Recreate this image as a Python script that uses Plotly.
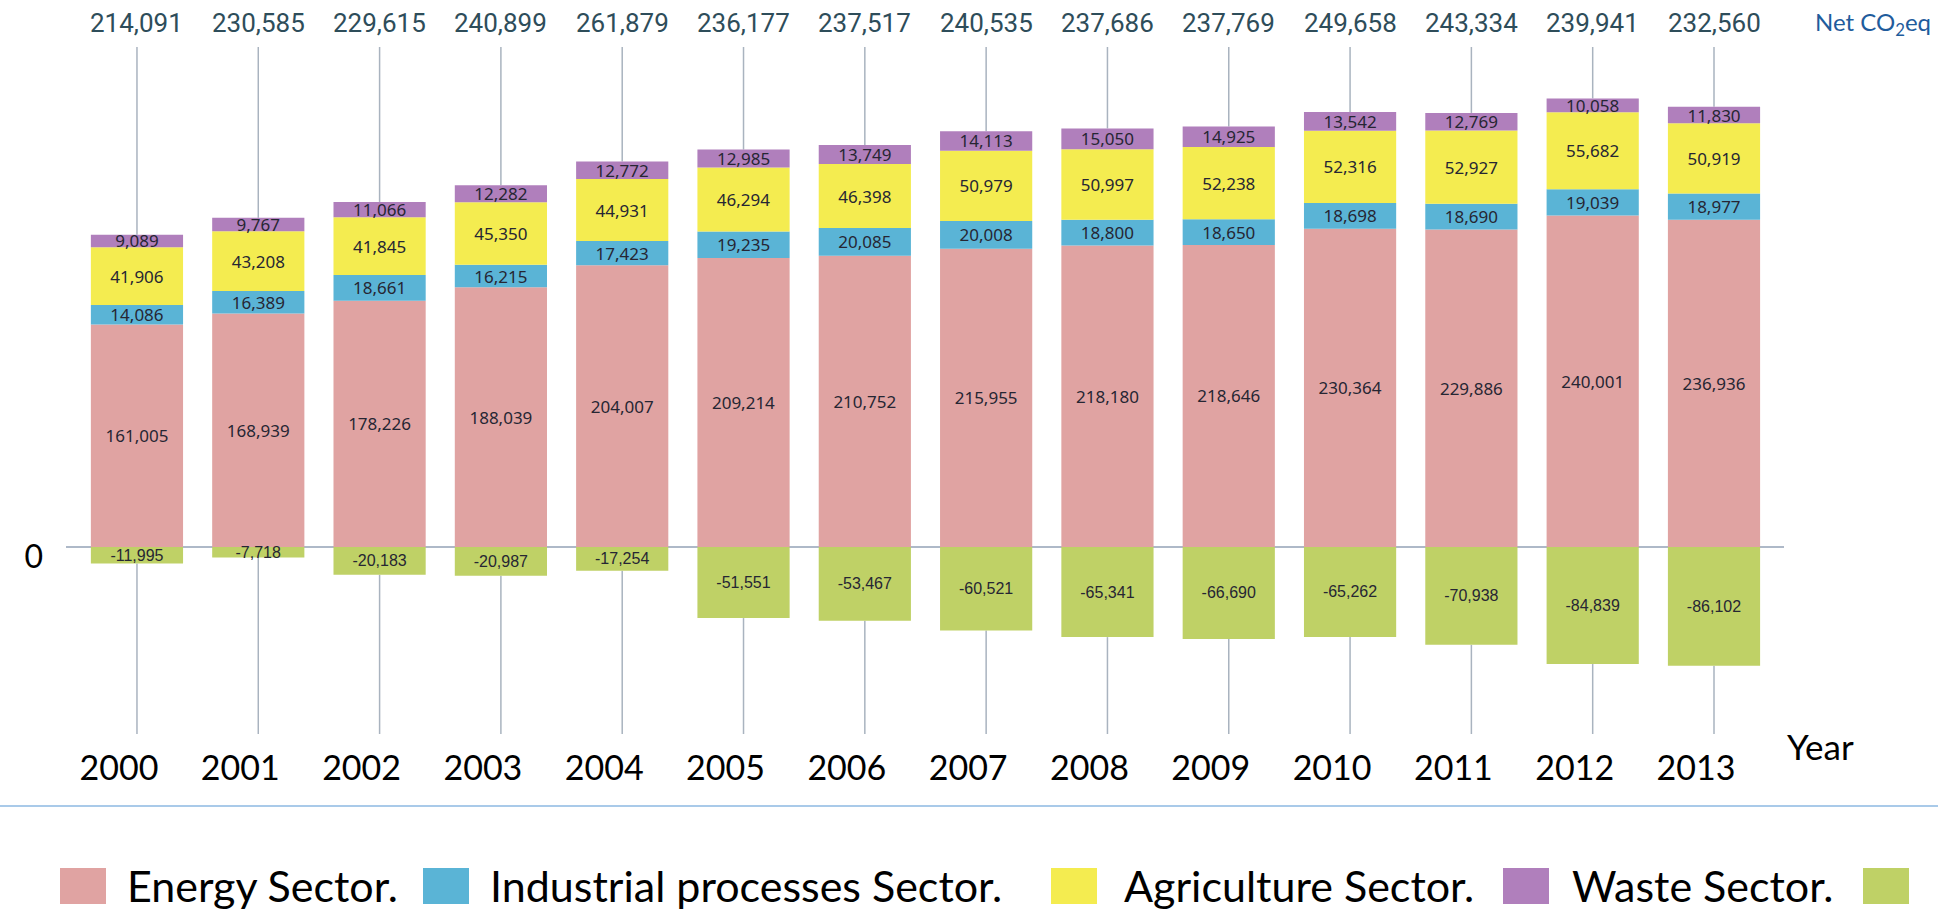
import plotly.graph_objects as go

# ---------------- data ----------------
years = [2000, 2001, 2002, 2003, 2004, 2005, 2006, 2007, 2008, 2009, 2010, 2011, 2012, 2013]
energy = [161005, 168939, 178226, 188039, 204007, 209214, 210752, 215955, 218180, 218646, 230364, 229886, 240001, 236936]
industrial = [14086, 16389, 18661, 16215, 17423, 19235, 20085, 20008, 18800, 18650, 18698, 18690, 19039, 18977]
agriculture = [41906, 43208, 41845, 45350, 44931, 46294, 46398, 50979, 50997, 52238, 52316, 52927, 55682, 50919]
waste = [9089, 9767, 11066, 12282, 12772, 12985, 13749, 14113, 15050, 14925, 13542, 12769, 10058, 11830]
lulucf = [-11995, -7718, -20183, -20987, -17254, -51551, -53467, -60521, -65341, -66690, -65262, -70938, -84839, -86102]
# net CO2eq as printed above each bar
net_co2eq = [214091, 230585, 229615, 240899, 261879, 236177, 237517, 240535, 237686, 237769, 249658, 243334, 239941, 232560]

series_names = ["Energy Sector.", "Industrial processes Sector.", "Agriculture Sector.", "Waste Sector.", ""]
series_colors = ["#e0a3a2", "#5ab4d6", "#f4ec50", "#b07fbc", "#bfd166"]

pos_total = [e + i + a + w for e, i, a, w in zip(energy, industrial, agriculture, waste)]

# ---------------- layout geometry (pixels) ----------------
W, H = 1938, 910
L, R, T, B = 66, 154, 47, 176
PW, PH = W - L - R, H - T - B
Y_MAX, Y_MIN = 362000, -135500


def px(xp):
    return (xp - L) / PW


def py(yp):
    return (H - B - yp) / PH


fig = go.Figure()

pos_series = [energy, industrial, agriculture, waste]
for vals, name, col in zip(pos_series, series_names[:4], series_colors[:4]):
    fig.add_trace(go.Bar(
        x=years, y=vals, name=name, width=0.76,
        marker=dict(color=col, line=dict(width=0)),
        texttemplate="%{y:,}", textposition="inside", insidetextanchor="middle",
        textangle=0, constraintext="none",
        textfont=dict(family="Noto Sans, DejaVu Sans", size=17, color="#262633"),
        showlegend=False,
    ))

fig.add_trace(go.Bar(
    x=years, y=lulucf, name="LULUCF", width=0.76,
    marker=dict(color=series_colors[4], line=dict(width=0)),
    texttemplate="%{y:,}", textposition="inside", insidetextanchor="middle",
    textangle=0, constraintext="none",
    textfont=dict(family="Liberation Sans, Arial", size=16, color="#262633"),
    showlegend=False,
))

shapes = []
stem_col = "#a9b3bf"
for yr, top, neg in zip(years, pos_total, lulucf):
    shapes.append(dict(type="line", xref="x", yref="y", x0=yr, x1=yr, y0=top, y1=Y_MAX,
                       line=dict(color=stem_col, width=1.5), layer="below"))
    shapes.append(dict(type="line", xref="x", yref="y", x0=yr, x1=yr, y0=neg, y1=Y_MIN,
                       line=dict(color=stem_col, width=1.5), layer="below"))

# separator line above legend
shapes.append(dict(type="line", xref="paper", yref="paper", x0=px(0), x1=px(W), y0=py(806), y1=py(806),
                   line=dict(color="#8cb8e2", width=1.5)))

annotations = []
for yr, v in zip(years, net_co2eq):
    annotations.append(dict(x=yr, xref="x", y=1, yref="paper", yshift=24, yanchor="middle",
                            text=f"{v:,}", showarrow=False,
                            font=dict(family="Roboto", size=26, color="#2e4d5a")))

annotations.append(dict(x=px(1933), xref="paper", y=1, yref="paper", yshift=24, xanchor="right", yanchor="middle",
                        text="Net CO<sub>2</sub>eq", showarrow=False,
                        font=dict(family="Lato", size=24, color="#1f5c9c")))

annotations.append(dict(x=px(1820), xref="paper", y=py(746), yref="paper", xanchor="center", yanchor="middle",
                        text="Year", showarrow=False,
                        font=dict(family="Lato", size=35, color="#000000")))

# custom legend
legend_sq = [(60, 106), (423, 469), (1051, 1097), (1503, 1549), (1863, 1909)]
legend_txt_x = [125, 488, 1122, 1570, None]
for (x0, x1), tx, name, col in zip(legend_sq, legend_txt_x, series_names, series_colors):
    shapes.append(dict(type="rect", xref="paper", yref="paper", x0=px(x0), x1=px(x1), y0=py(904), y1=py(868),
                       fillcolor=col, line=dict(width=0)))
    if tx is not None:
        annotations.append(dict(x=px(tx), xref="paper", y=py(885), yref="paper", xanchor="left", yanchor="middle",
                                text=name, showarrow=False,
                                font=dict(family="Lato", size=43, color="#000000")))

fig.update_layout(
    width=W, height=H,
    margin=dict(l=L, r=R, t=T, b=B, autoexpand=False),
    barmode="relative",
    plot_bgcolor="white", paper_bgcolor="white",
    shapes=shapes, annotations=annotations,
    showlegend=False,
)

fig.update_xaxes(
    range=[1999.415, 2013.577], showgrid=False, zeroline=False, showline=False,
    tickmode="array", tickvals=years, ticktext=[str(y) for y in years],
    ticks="", tickfont=dict(family="Lato", size=34, color="#000000"),
    ticklabelstandoff=11, ticklabelshift=-18,
)
fig.update_yaxes(
    range=[Y_MIN, Y_MAX], showgrid=False, zeroline=True, zerolinecolor="#aeb9c8", zerolinewidth=2,
    showline=False, tickmode="array", tickvals=[0], ticktext=["0"], ticks="",
    tickfont=dict(family="Lato", size=32, color="#000000"), ticklabelstandoff=22, ticklabelshift=10,
)

fig.write_html("out.html")
